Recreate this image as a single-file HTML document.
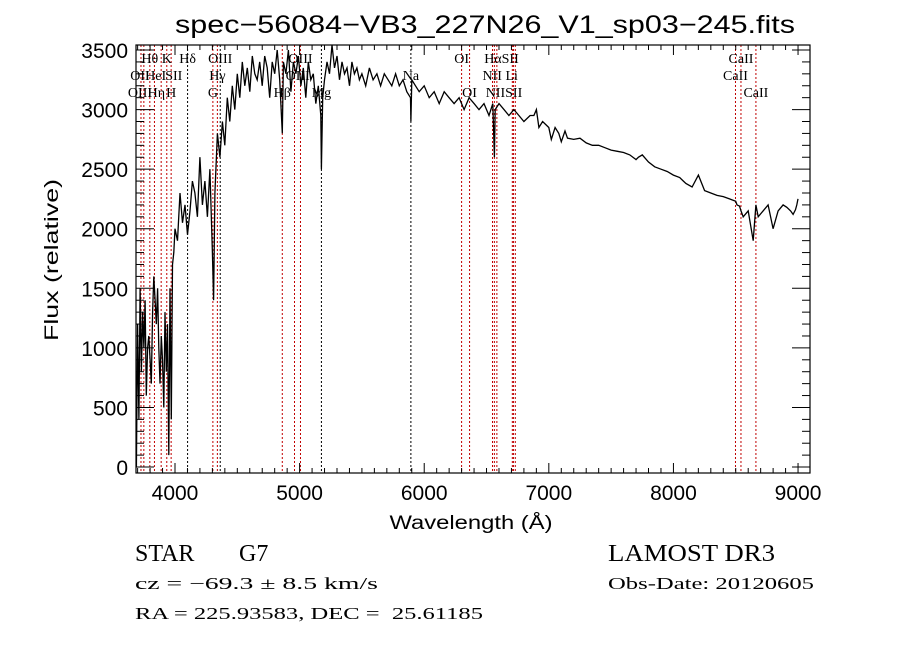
<!DOCTYPE html>
<html><head><meta charset="utf-8"><style>
html,body{margin:0;padding:0;background:#fff;}
svg{display:block;}
text{font-family:"Liberation Sans",sans-serif;fill:#000;white-space:pre;}
.ser{font-family:"Liberation Serif",serif;}
</style></head><body>
<svg id="chart" width="900" height="649" viewBox="0 0 900 649" xmlns="http://www.w3.org/2000/svg" xml:space="preserve">
<text x="485" y="33" font-size="25" text-anchor="middle" textLength="620" lengthAdjust="spacingAndGlyphs">spec−56084−VB3_227N26_V1_sp03−245.fits</text>
<g id="lines"></g>
<g id="spec"></g>
<g id="axes"></g>
<text x="471" y="529" font-size="19" text-anchor="middle" textLength="163" lengthAdjust="spacingAndGlyphs">Wavelength (Å)</text>
<text transform="translate(58,260) rotate(-90)" font-size="19" text-anchor="middle" textLength="162" lengthAdjust="spacingAndGlyphs">Flux (relative)</text>
<text class="ser" x="135" y="561" font-size="24">STAR</text>
<text class="ser" x="239" y="561" font-size="24">G7</text>
<text class="ser" x="135" y="589" font-size="17" textLength="243" lengthAdjust="spacingAndGlyphs">cz = −69.3 ± 8.5 km/s</text>
<text class="ser" x="135" y="619" font-size="17" textLength="348" lengthAdjust="spacingAndGlyphs">RA = 225.93583, DEC =  25.61185</text>
<text class="ser" x="608" y="561" font-size="24" textLength="167" lengthAdjust="spacingAndGlyphs">LAMOST DR3</text>
<text class="ser" x="608" y="589" font-size="17" textLength="206" lengthAdjust="spacingAndGlyphs">Obs-Date: 20120605</text>
</svg>
<script>
const waves = [3690,3700,3710,3720,3730,3740,3750,3760,3770,3780,3790,3800,3810,3820,3830,3840,3850,3860,3870,3880,3890,3900,3910,3920,3930,3940,3950,3960,3970,3980,3990,4000,4020,4040,4060,4080,4100,4120,4140,4160,4180,4200,4220,4240,4260,4280,4300,4310,4320,4340,4360,4380,4400,4420,4440,4460,4480,4500,4520,4540,4560,4580,4600,4620,4640,4660,4680,4700,4720,4740,4760,4780,4800,4820,4840,4861,4870,4890,4910,4930,4950,4970,4990,5010,5030,5050,5070,5090,5110,5130,5150,5170,5175,5185,5200,5220,5240,5260,5280,5300,5320,5340,5360,5380,5400,5420,5440,5460,5480,5500,5530,5560,5590,5620,5650,5680,5710,5740,5770,5800,5830,5860,5890,5893,5900,5930,5960,6000,6040,6080,6120,6160,6200,6240,6280,6320,6360,6400,6440,6480,6520,6550,6563,6570,6600,6640,6680,6720,6760,6800,6850,6880,6900,6920,6950,7000,7020,7050,7080,7100,7130,7150,7200,7250,7300,7350,7400,7450,7500,7550,7600,7650,7700,7720,7750,7800,7850,7900,7950,8000,8050,8080,8100,8150,8200,8250,8300,8350,8400,8450,8500,8510,8530,8542,8560,8600,8640,8662,8680,8720,8760,8800,8840,8880,8910,8940,8960,8980,8990,9000];
const fluxes = [0,1200,400,1500,800,1300,1000,1400,600,1000,1100,900,700,1300,1600,1400,1200,1500,1000,700,1100,900,500,1300,800,1200,100,1500,400,1700,1800,2000,1900,2300,2050,2200,1950,2150,2400,2300,2100,2600,2200,2400,2100,2500,1800,1400,2300,2800,2600,2900,2700,3100,2900,3200,3000,3300,3100,3400,3200,3350,3150,3450,3300,3250,3400,3200,3450,3350,3100,3400,3300,3500,3250,2800,3400,3300,3500,3150,3400,3300,3450,3200,3350,3100,3400,3250,3300,3050,3200,2950,2500,3100,3250,3400,3300,3550,3350,3450,3250,3400,3300,3350,3200,3400,3300,3350,3250,3300,3200,3350,3250,3300,3200,3300,3250,3200,3300,3200,3250,3150,3100,2900,3250,3200,3150,3200,3100,3150,3050,3150,3100,3050,3100,3000,3100,3050,3000,3050,2950,3050,2600,3000,3050,3000,2950,3000,2950,2900,2950,2950,3000,2850,2900,2850,2750,2850,2800,2730,2820,2760,2750,2760,2720,2700,2700,2680,2660,2650,2640,2620,2580,2600,2620,2560,2520,2500,2480,2450,2430,2400,2380,2350,2450,2320,2300,2280,2270,2250,2230,2200,2190,2150,2100,2150,1900,2200,2100,2150,2200,2000,2150,2200,2180,2150,2120,2160,2200,2250,2150,1950,1700,1000,0];
const lineWaves = [3727,3750,3798,3835,3889,3934,3969,4101,4304,4340,4363,4861,4959,5007,5175,5893,6300,6364,6548,6563,6583,6707,6716,6731,8498,8542,8662];
const lineColors = ["red","red","red","red","red","red","red","black","red","red","black","red","red","red","black","black","red","red","red","red","red","red","red","red","red","red","red"];
const lineLabels = [["OII",3719,75],["OIII",3719,92],["Hθ",3798,58],["HeI",3845,75],["Hη",3850,92],["K",3934,58],["H",3969,92],["SII",3990,75],["Hδ",4101,58],["OIII",4363,58],["Hγ",4340,75],["G",4304,92],["Hβ",4861,92],["OIII",5007,58],["OIII",4985,75],["Mg",5175,92],["Na",5893,75],["OI",6300,58],["OI",6364,92],["HαSII",6620,58],["NII Li",6610,75],["NIISII",6640,92],["CaII",8542,58],["CaII",8498,75],["CaII",8662,92]];
const xTicks = [4000,5000,6000,7000,8000,9000];
const yTicks = [0,500,1000,1500,2000,2500,3000,3500];

const L=136,R=810,T=45,B=473;
const X0=3687,X1=9096,Y0=-50,Y1=3542;
const xs=w=>L+(w-X0)/(X1-X0)*(R-L);
const ys=f=>B-(f-Y0)/(Y1-Y0)*(B-T);
const NS="http://www.w3.org/2000/svg";
function mk(tag,parent,attrs){const e=document.createElementNS(NS,tag);for(const k in attrs)e.setAttribute(k,attrs[k]);parent.appendChild(e);return e;}

const gl=document.getElementById('lines');
lineWaves.forEach((w,i)=>{
  const l=mk('line',gl,{x1:xs(w),x2:xs(w),y1:T,y2:B,stroke:lineColors[i]==='red'?'#c00000':'#000','stroke-width':1,'stroke-dasharray':'2,2'});
  
  
});
lineLabels.forEach(([t,w,y])=>{
  const e=mk('text',gl,{x:xs(w),y:y+5,'font-size':14,'text-anchor':'middle','class':'ser'});
  e.textContent=t;
  
  
});

const gs=document.getElementById('spec');
let d='';
waves.forEach((w,i)=>{d+=(i?'L':'M')+xs(w).toFixed(1)+' '+Math.max(T,ys(fluxes[i])).toFixed(1);});
const p=mk('path',gs,{d:d,fill:'none',stroke:'#000','stroke-width':1.3,'stroke-linejoin':'miter'});



const ga=document.getElementById('axes');
const frame=mk('rect',ga,{x:L,y:T,width:R-L,height:B-T,fill:'none',stroke:'#000','stroke-width':1.2});


for(let w=3700;w<=9000;w+=100){
  const x=xs(w),maj=w%1000===0,len=maj?10:5;
  mk('line',ga,{x1:x,x2:x,y1:B,y2:B-len,stroke:'#000'});
  mk('line',ga,{x1:x,x2:x,y1:T,y2:T+len,stroke:'#000'});
}
for(let f=0;f<=3500;f+=100){
  const y=ys(f),maj=f%500===0,len=maj?18:8;
  mk('line',ga,{x1:L,x2:L+len,y1:y,y2:y,stroke:'#000'});
  mk('line',ga,{x1:R,x2:R-len,y1:y,y2:y,stroke:'#000'});
}
xTicks.forEach(v=>{
  const t=mk('text',ga,{x:xs(v),y:B+27,'font-size':21,'text-anchor':'middle'});
  t.textContent=v;
  
  
});
yTicks.forEach(v=>{
  const t=mk('text',ga,{x:L-8,y:ys(v)+8,'font-size':21,'text-anchor':'end'});
  t.textContent=v;
  
  
});
</script>
</body></html>
